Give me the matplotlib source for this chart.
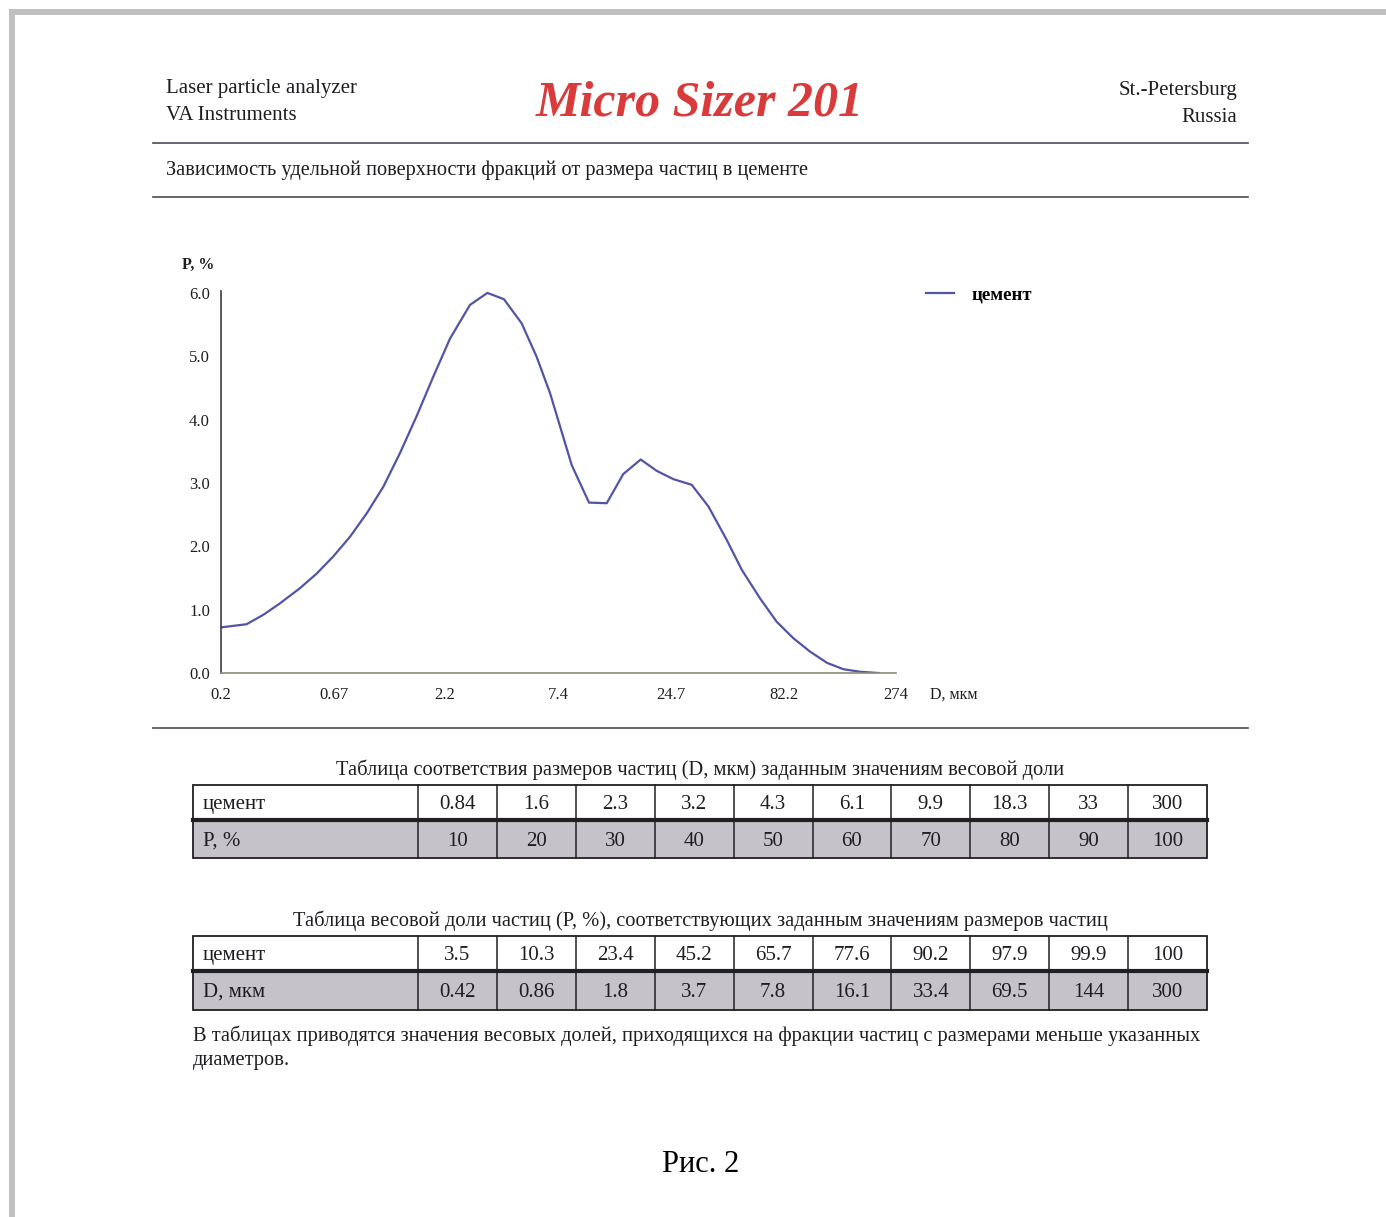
import matplotlib
matplotlib.use("Agg")
import matplotlib.pyplot as plt
from matplotlib.patches import Rectangle

plt.rcParams['font.family'] = ['Liberation Serif', 'DejaVu Serif']

# ─── Data ────────────────────────────────────────────────────────────────────
D_UM = [0.2, 0.263, 0.315, 0.376, 0.466, 0.557, 0.665, 0.795, 0.951, 1.136,
        1.357, 1.62, 1.94, 2.32, 2.87, 3.46, 4.13, 4.99, 5.86, 6.76,
        8.53, 10.26, 12.4, 14.8, 17.84, 21.2, 25.3, 30.8, 36.8, 44.8,
        52.6, 63.9, 76.4, 91.3, 109, 131, 156, 186, 227]
P_PCT = [0.72, 0.77, 0.92, 1.10, 1.34, 1.57, 1.84, 2.15, 2.52, 2.94,
         3.47, 4.05, 4.68, 5.28, 5.81, 6.00, 5.90, 5.52, 4.99, 4.42,
         3.28, 2.69, 2.68, 3.14, 3.37, 3.19, 3.06, 2.97, 2.63, 2.10,
         1.63, 1.18, 0.81, 0.55, 0.34, 0.16, 0.06, 0.02, 0.0]

X_TICKS = [0.2, 0.67, 2.2, 7.4, 24.7, 82.2, 274]
X_TICK_LABELS = ["0.2", "0.67", "2.2", "7.4", "24.7", "82.2", "274"]
Y_TICKS = [0.0, 1.0, 2.0, 3.0, 4.0, 5.0, 6.0]

SAMPLE = "цемент"
T1_D = ["0.84", "1.6", "2.3", "3.2", "4.3", "6.1", "9.9", "18.3", "33", "300"]
T1_P = ["10", "20", "30", "40", "50", "60", "70", "80", "90", "100"]
T2_P = ["3.5", "10.3", "23.4", "45.2", "65.7", "77.6", "90.2", "97.9", "99.9", "100"]
T2_D = ["0.42", "0.86", "1.8", "3.7", "7.8", "16.1", "33.4", "69.5", "144", "300"]

# ─── Page ────────────────────────────────────────────────────────────────────
W, H = 1386, 1217
fig = plt.figure(figsize=(W / 100, H / 100), dpi=100)
fig.patch.set_facecolor("white")

# overlay axes in pixel coordinates (y down)
pg = fig.add_axes([0, 0, 1, 1])
pg.set_xlim(0, W)
pg.set_ylim(H, 0)
pg.axis("off")

TXT = "#1e1e22"
RULE = "#4a4a5c"
DY = 2  # centre-of-bbox vs. visual centre correction


def put(x, y, s, **kw):
    kw.setdefault("fontsize", 15)
    kw.setdefault("color", TXT)
    kw.setdefault("va", "center")
    pg.text(x, y + DY, s, **kw)


# scan frame
pg.add_patch(Rectangle((9, 9), W - 9, 6, color="#c0c0c0", lw=0))
pg.add_patch(Rectangle((9, 9), 6, H - 9, color="#c0c0c0", lw=0))

# header
put(166, 86, "Laser particle analyzer")
put(166, 113, "VA Instruments")
put(1237, 88, "St.-Petersburg", ha="right")
put(1237, 115, "Russia", ha="right")
put(700, 102, "Micro Sizer 201", fontsize=36, color="#d93b3b",
    fontweight="bold", fontstyle="italic", ha="center")

for y in (143, 197, 728):
    pg.plot([153, 1248], [y, y], color=RULE, lw=1.2)

put(166, 168, "Зависимость удельной поверхности фракций от размера частиц в цементе",
    fontsize=14.7)

# ─── Chart ───────────────────────────────────────────────────────────────────
ax = fig.add_axes([221 / W, 1 - 673 / H, (896 - 221) / W, (673 - 291) / H])
ax.plot(D_UM, P_PCT, color="#5254a6", lw=1.6, label=SAMPLE)
ax.set_xscale("log")
ax.set_xlim(0.2, 274)
ax.set_ylim(0, 6.03)
ax.set_xticks(X_TICKS)
ax.set_xticklabels(X_TICK_LABELS)
ax.minorticks_off()
ax.set_yticks(Y_TICKS)
ax.set_yticklabels([f"{v:.1f}" for v in Y_TICKS])
ax.tick_params(length=0, labelsize=12, colors=TXT, pad=8)
ax.tick_params(axis="x", pad=10)
for s in ("top", "right"):
    ax.spines[s].set_visible(False)
ax.spines["left"].set_color("#3c3c4a")
ax.spines["bottom"].set_color("#8c8c78")
ax.spines["left"].set_linewidth(1.2)
ax.spines["bottom"].set_linewidth(1.2)
ax.patch.set_alpha(0)

put(198, 263, "P, %", fontsize=11.5, ha="center", fontweight="bold")
put(930, 693, "D, мкм", fontsize=11.5)
ax.legend(loc="center left", bbox_to_anchor=(926 / W, 1 - 295 / H),
          bbox_transform=fig.transFigure, frameon=False, handlelength=1.5,
          handletextpad=0.9, borderpad=0, borderaxespad=0,
          prop={"size": 13.5, "weight": "bold"})

# ─── Tables ──────────────────────────────────────────────────────────────────
col_edges = [193] + [418 + i * 78.9 for i in range(11)]


def draw_table(y0, y_mid, y1, head_vals, row_label, row_vals):
    pg.add_patch(Rectangle((193, y_mid), 1207 - 193, y1 - y_mid,
                           facecolor="#c6c2ca", edgecolor="none"))
    pg.add_patch(Rectangle((193, y0), 1207 - 193, y1 - y0,
                           facecolor="none", edgecolor="#202024", lw=1.3))
    pg.plot([193, 1207], [y_mid, y_mid], color="#202024", lw=3)
    for x in col_edges[1:-1]:
        pg.plot([x, x], [y0, y1], color="#202024", lw=1.1)
    yc0 = (y0 + y_mid) / 2
    yc1 = (y_mid + y1) / 2
    put(203, yc0, SAMPLE)
    put(203, yc1, row_label)
    for i in range(10):
        xc = (col_edges[i + 1] + col_edges[i + 2]) / 2
        put(xc, yc0, head_vals[i], ha="center")
        put(xc, yc1, row_vals[i], ha="center")


put(700, 768, "Таблица соответствия размеров частиц (D, мкм) заданным значениям весовой доли",
    fontsize=14.8, ha="center")
draw_table(785, 820, 858, T1_D, "P, %", T1_P)

put(700, 919, "Таблица весовой доли частиц (P, %), соответствующих заданным значениям размеров частиц",
    fontsize=14.8, ha="center")
draw_table(936, 971, 1010, T2_P, "D, мкм", T2_D)

put(193, 1034, "В таблицах приводятся значения весовых долей, приходящихся на фракции частиц "
    "с размерами меньше указанных", fontsize=14.8)
put(193, 1059, "диаметров.", fontsize=14.8)

put(701, 1163, "Рис. 2", fontsize=22, color="black", ha="center")

fig.savefig("out.png", dpi=100)
